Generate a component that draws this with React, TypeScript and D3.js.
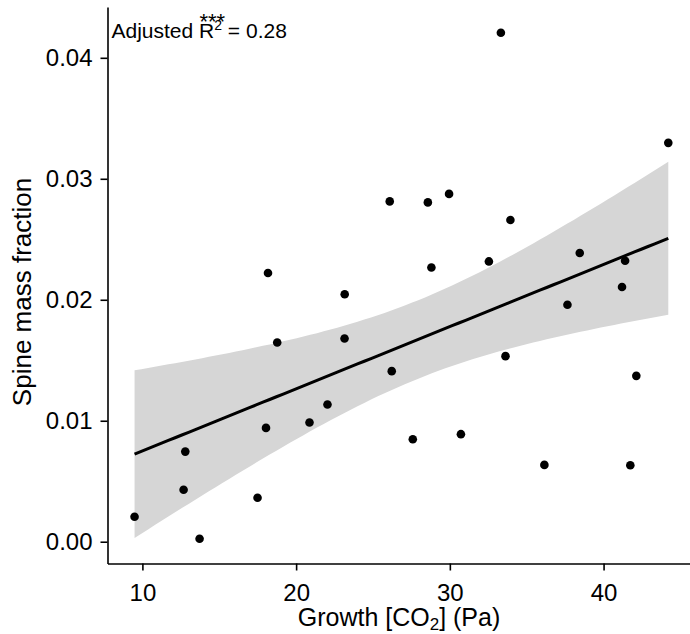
import React, { useRef, useEffect } from 'react';
import * as d3 from 'd3';

// values
const growthCO2 = [
  9.49, 12.68, 12.79, 13.72, 17.49, 18.04, 18.17, 18.77, 20.87, 22.04,
  23.15, 23.16, 26.09, 26.22, 27.59, 28.57, 28.80, 29.95, 30.72, 32.54,
  33.32, 33.62, 33.94, 36.15, 37.65, 38.45, 41.20, 41.40, 41.74, 42.13, 44.21,
];
const spineFraction = [
  0.00207, 0.0043, 0.00745, 0.00025, 0.00364, 0.00941, 0.02221, 0.01647, 0.00985, 0.01134,
  0.0168, 0.02046, 0.02813, 0.0141, 0.00847, 0.02805, 0.02267, 0.02875, 0.00889, 0.02317,
  0.04207, 0.01534, 0.02659, 0.00635, 0.01959, 0.02386, 0.02105, 0.02323, 0.00632, 0.01371, 0.03297,
];
const xTicks = [10, 20, 30, 40];
const yTicks = [0, 0.01, 0.02, 0.03, 0.04];

const width = 690;
const height = 634;
const font = '"Liberation Sans", Arial, sans-serif';

const App = () => {
  const svgRef = useRef(null);

  useEffect(() => {
    const svg = d3.select(svgRef.current);
    svg.selectAll('*').remove();

    const x = d3.scaleLinear().domain([7.73, 45.98]).range([107.5, 695.5]);
    const y = d3.scaleLinear().domain([-0.0018, 0.0442]).range([563.5, 7]);

    // ordinary least squares + 95% confidence band (like geom_smooth(method = 'lm'))
    const pts = growthCO2.map((g, i) => ({ x: g, y: spineFraction[i] }));
    const n = pts.length;
    const mx = d3.mean(pts, d => d.x);
    const my = d3.mean(pts, d => d.y);
    const sxx = d3.sum(pts, d => (d.x - mx) ** 2);
    const sxy = d3.sum(pts, d => (d.x - mx) * (d.y - my));
    const slope = sxy / sxx;
    const icpt = my - slope * mx;
    const sres = Math.sqrt(d3.sum(pts, d => (d.y - icpt - slope * d.x) ** 2) / (n - 2));
    const tq = 2.045; // t(0.975, df = 29)
    const [x0, x1] = d3.extent(growthCO2);
    const band = d3.range(80).map(i => {
      const g = x0 + ((x1 - x0) * i) / 79;
      const fit = icpt + slope * g;
      const se = sres * Math.sqrt(1 / n + (g - mx) ** 2 / sxx);
      return { g, fit, lo: fit - tq * se, hi: fit + tq * se };
    });

    // confidence ribbon
    svg.append('path')
      .datum(band)
      .attr('d', d3.area().x(d => x(d.g)).y0(d => y(d.lo)).y1(d => y(d.hi)))
      .attr('fill', '#d6d6d6');

    // fitted line
    svg.append('path')
      .datum(band)
      .attr('d', d3.line().x(d => x(d.g)).y(d => y(d.fit)))
      .attr('fill', 'none')
      .attr('stroke', '#000')
      .attr('stroke-width', 3);

    // points
    svg.append('g')
      .selectAll('circle')
      .data(pts)
      .enter()
      .append('circle')
      .attr('cx', d => x(d.x))
      .attr('cy', d => y(d.y))
      .attr('r', 4.3)
      .attr('fill', '#000');

    // x axis
    const gx = svg.append('g')
      .attr('transform', `translate(0,${y.range()[0]})`)
      .call(d3.axisBottom(x).tickValues(xTicks).tickSize(7).tickSizeOuter(0).tickPadding(13));
    gx.select('.domain').attr('stroke-width', 1.6);
    gx.selectAll('.tick line').attr('stroke-width', 1.6);
    gx.selectAll('.tick text')
      .attr('font-family', font)
      .attr('font-size', 24)
      .attr('fill', '#000');

    // y axis
    const gy = svg.append('g')
      .attr('transform', `translate(${x.range()[0]},0)`)
      .call(d3.axisLeft(y).tickValues(yTicks).tickSize(7).tickSizeOuter(0).tickPadding(8)
        .tickFormat(d3.format('.2f')));
    gy.select('.domain').attr('stroke-width', 1.6);
    gy.selectAll('.tick line').attr('stroke-width', 1.6);
    gy.selectAll('.tick text')
      .attr('font-family', font)
      .attr('font-size', 24)
      .attr('fill', '#000');

    // axis titles
    const xt = svg.append('text')
      .attr('x', 399)
      .attr('y', 626)
      .attr('text-anchor', 'middle')
      .attr('font-family', font)
      .attr('font-size', 25)
      .text('Growth [CO');
    xt.append('tspan').attr('font-size', 17).attr('dy', 4).text('2');
    xt.append('tspan').attr('dy', -4).text('] (Pa)');

    svg.append('text')
      .attr('transform', 'rotate(-90)')
      .attr('x', -292)
      .attr('y', 30.5)
      .attr('text-anchor', 'middle')
      .attr('font-family', font)
      .attr('font-size', 26)
      .text('Spine mass fraction');

    // R squared annotation
    const ann = svg.append('text')
      .attr('x', 111.5)
      .attr('y', 37.7)
      .attr('font-family', font)
      .attr('font-size', 21)
      .text('Adjusted R');
    ann.append('tspan').attr('font-size', 14).attr('dy', -8).text('2');
    ann.append('tspan').attr('dy', 8).text(' = 0.28');

    svg.append('text')
      .attr('x', 199.5)
      .attr('y', 28.5)
      .attr('font-family', font)
      .attr('font-size', 22)
      .text('***');
  }, []);

  return (
    <svg
      ref={svgRef}
      width={width}
      height={height}
      style={{ position: 'absolute', left: 0, top: 0, background: '#fff', display: 'block' }}
    />
  );
};

export default App;
